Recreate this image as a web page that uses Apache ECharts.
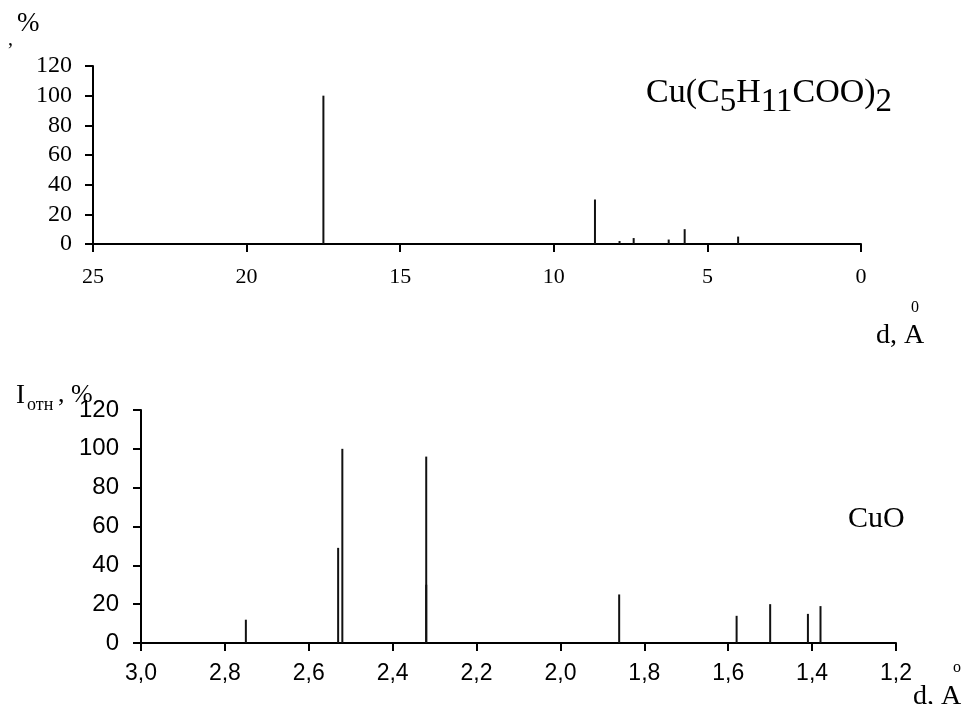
<!DOCTYPE html>
<html>
<head>
<meta charset="utf-8">
<title>XRD</title>
<script src="https://cdn.jsdelivr.net/npm/echarts@6/dist/echarts.min.js"></script>
<style>
	html, body { margin: 0; padding: 0; background: #fff; }
	#P1 { width: 967px; height: 704px; }
</style>
</head>
<body>
<div id="P1"></div>
<script>
// Cu(C5H11COO)2 - межплоскостные расстояния и интенсивности
var topD = [17.5, 8.66, 7.86, 7.40, 6.26, 5.74, 4.00];
var topI = [100, 30, 2, 4, 3, 10, 5];
// CuO
var botD = [2.75, 2.53, 2.52, 2.32, 2.32, 1.86, 1.58, 1.50, 1.41, 1.38];
var botI = [12, 49, 100, 96, 30, 25, 14, 20, 15, 19];
// оси
var topXTicks = [0, 25, 5];
var botXTicks = [1.2, 3.0, 0.2];
var yTicks = [0, 120, 20];

var serif = '"Liberation Serif", "Times New Roman", serif';
var sans = '"Liberation Sans", Arial, sans-serif';

function pairs(xs, ys) {
	var out = [];
	for (var i = 0; i < xs.length; i++) {
		out.push([xs[i], ys[i]]);
	}
	return out;
}

function echartsP1() {
	var myChart = echarts.init(document.getElementById('P1'));
	var axisLine = { onZero: false, lineStyle: { color: '#000', width: 2 } };
	var axisTick = { show: true, inside: false, length: 8, lineStyle: { color: '#000', width: 2 } };
	var option = {
		backgroundColor: '#fff',
		animation: false,
		grid: [
			{ left: 93, right: 106, top: 66, height: 178 },
			{ left: 141, right: 71, top: 410, height: 233 }
		],
		xAxis: [{
			gridIndex: 0,
			type: 'value',
			inverse: true,
			min: topXTicks[0],
			max: topXTicks[1],
			interval: topXTicks[2],
			splitLine: { show: false },
			axisLine: axisLine,
			axisTick: axisTick,
			axisLabel: { color: '#000', fontFamily: serif, fontSize: 22, margin: 22 }
		}, {
			gridIndex: 1,
			type: 'value',
			inverse: true,
			min: botXTicks[0],
			max: botXTicks[1],
			interval: botXTicks[2],
			splitLine: { show: false },
			axisLine: axisLine,
			axisTick: axisTick,
			axisLabel: {
				color: '#000',
				fontFamily: sans,
				fontSize: 23,
				margin: 19,
				formatter: function(v) {
					return v.toFixed(1).replace('.', ',');
				}
			}
		}],
		yAxis: [{
			gridIndex: 0,
			type: 'value',
			min: yTicks[0],
			max: yTicks[1],
			interval: yTicks[2],
			splitLine: { show: false },
			axisLine: axisLine,
			axisTick: axisTick,
			axisLabel: { color: '#000', fontFamily: serif, fontSize: 24, margin: 21 }
		}, {
			gridIndex: 1,
			type: 'value',
			min: yTicks[0],
			max: yTicks[1],
			interval: yTicks[2],
			splitLine: { show: false },
			axisLine: axisLine,
			axisTick: axisTick,
			axisLabel: { color: '#000', fontFamily: sans, fontSize: 24, margin: 22 }
		}],
		series: [{
			name: 'Cu(C5H11COO)2',
			type: 'bar',
			xAxisIndex: 0,
			yAxisIndex: 0,
			barWidth: 2,
			itemStyle: { color: '#111' },
			data: pairs(topD, topI)
		}, {
			name: 'CuO',
			type: 'bar',
			xAxisIndex: 1,
			yAxisIndex: 1,
			barWidth: 2,
			itemStyle: { color: '#111' },
			data: pairs(botD, botI)
		}],
		graphic: [
			// верхний график
			{ type: 'text', left: 8, top: 30, style: { text: ',', font: '20px ' + serif, fill: '#000' } },
			{ type: 'text', left: 17, top: 10, style: { text: '%', font: '27px ' + serif, fill: '#000' } },
			{
				type: 'text', left: 646, top: 76,
				style: {
					text: '{m|Cu(C}{s|5}{m|H}{s|11}{m|COO)}{s|2}',
					fill: '#000',
					rich: {
						m: { fontFamily: serif, fontSize: 34, verticalAlign: 'top', lineHeight: 34 },
						s: { fontFamily: serif, fontSize: 33, verticalAlign: 'top', lineHeight: 33, padding: [10, 0, 0, 0] }
					}
				}
			},
			{ type: 'text', left: 911, top: 300, style: { text: '0', font: '16px ' + serif, fill: '#000' } },
			{ type: 'text', left: 876, top: 322, style: { text: 'd, A', font: '28px ' + serif, fill: '#000' } },
			// нижний график
			{ type: 'text', left: 16, top: 382, style: { text: 'I', font: '27px ' + serif, fill: '#000' } },
			{ type: 'text', left: 27, top: 396, style: { text: 'отн', font: '18px ' + serif, fill: '#000' } },
			{ type: 'text', left: 58, top: 382, style: { text: ', %', font: '26px ' + serif, fill: '#000' } },
			{ type: 'text', left: 848, top: 504, style: { text: 'CuO', font: '30px ' + serif, fill: '#000' } },
			{ type: 'text', left: 953, top: 660, style: { text: 'o', font: '16px ' + serif, fill: '#000' } },
			{ type: 'text', left: 913, top: 683, style: { text: 'd, A', font: '28px ' + serif, fill: '#000' } }
		]
	};
	myChart.setOption(option);
}

echartsP1();
</script>
</body>
</html>
